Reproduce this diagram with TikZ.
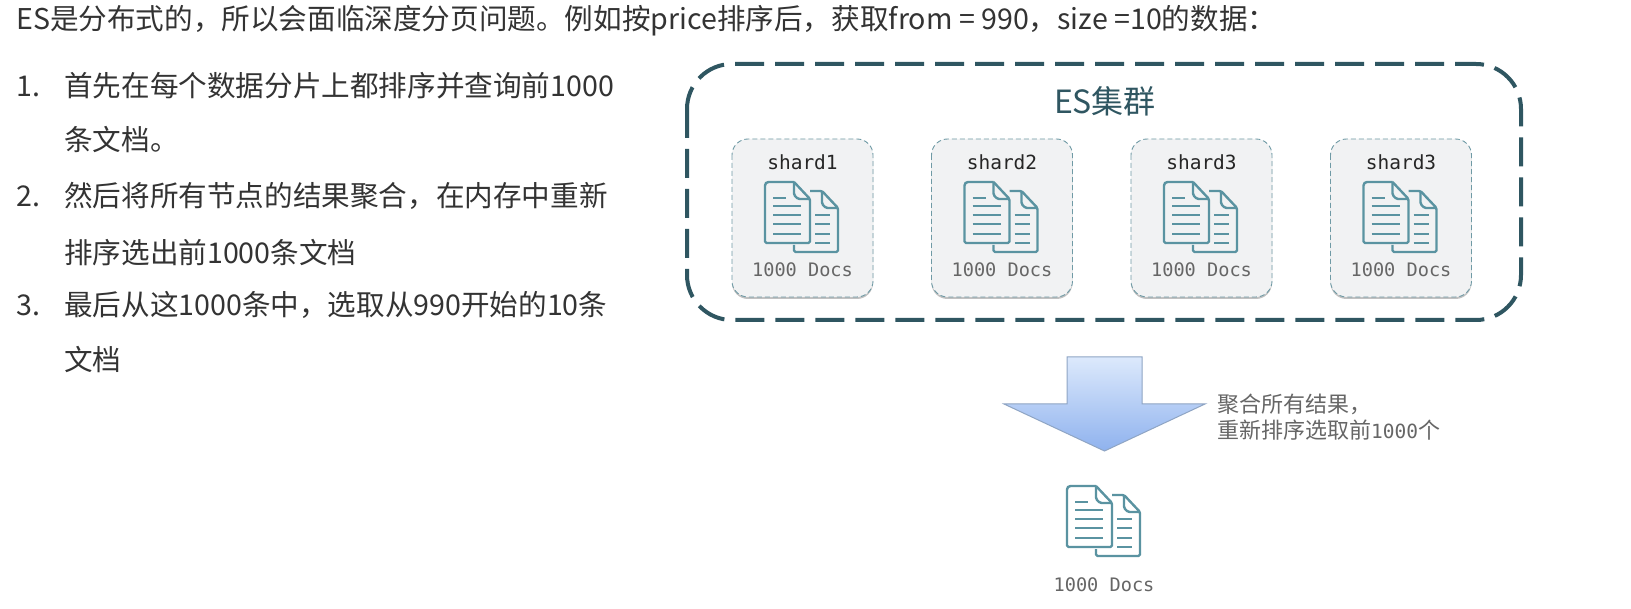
\documentclass[tikz,border=0pt]{standalone}
\usepackage{fontspec}
\setmainfont{Noto Sans CJK SC}
\newfontfamily\monofam{DejaVu Sans Mono}
\usetikzlibrary{shadows}
\definecolor{titletxt}{HTML}{333333}
\definecolor{clusterline}{HTML}{2F5661}
\definecolor{shardline}{HTML}{6F9AA5}
\definecolor{shardfill}{HTML}{F1F2F3}
\definecolor{docline}{HTML}{5A93A1}
\definecolor{monotxt}{HTML}{666666}
\definecolor{arrowtop}{HTML}{DCE9FC}
\definecolor{arrowbot}{HTML}{8FB2EE}
\definecolor{arrowline}{HTML}{8FA5C4}
\tikzset{
  x=1pt,y=-1pt,
  bodytxt/.style={anchor=west,inner sep=0pt,text=titletxt,font=\fontsize{28.6}{32}\selectfont},
  shardbox/.style={draw=shardline,dash pattern=on 5pt off 3pt,line width=0.9pt,fill=shardfill,rounded corners=16pt,
     drop shadow={shadow xshift=0pt,shadow yshift=-2pt,opacity=.4,fill=black!60}},
  shardname/.style={inner sep=0pt,text=black!85,font=\monofam\fontsize{19.5}{22}\selectfont},
  docslabel/.style={inner sep=0pt,text=monotxt,font=\monofam\fontsize{18.6}{22}\selectfont},
  docstroke/.style={draw=docline,line width=2.4pt,line join=round,rounded corners=1.5pt},
  docrule/.style={draw=docline,line width=2.2pt},
  docicon/.pic={
    \draw[docstroke] (45,9) -- (57,9) -- (73,26) -- (73,70) -- (29,70) -- (29,63);
    \draw[docstroke] (57,9) -- (57,22) -- (61,26) -- (73,26);
    \foreach \yy in {33,42,52,61} \draw[docrule] (50,\yy) -- (65,\yy);
    \draw[docstroke] (29,0) -- (2,0) -- (0,2) -- (0,61) -- (45,61) -- (45,17) -- (29,0);
    \draw[docstroke] (29,0) -- (29,13) -- (33,17) -- (45,17);
    \draw[docrule] (8,16) -- (21,16);
    \foreach \yy in {24,33,42,52} \draw[docrule] (8,\yy) -- (36,\yy);
  }
}
\begin{document}
\begin{tikzpicture}
\useasboundingbox (0,0) rectangle (1631,609);
\fill[white] (0,0) rectangle (1631,609);

\node[bodytxt] (title) at (16,21) {ES是分布式的，所以会面临深度分页问题。例如按price排序后，获取from = 990，size =10的数据：};

\node[bodytxt] (n1) at (16,86) {1.};
\node[bodytxt] (l1a) at (64,86) {首先在每个数据分片上都排序并查询前1000};
\node[bodytxt] (l1b) at (64,140) {条文档。};
\node[bodytxt] (n2) at (16,196) {2.};
\node[bodytxt] (l2a) at (64,196) {然后将所有节点的结果聚合，在内存中重新};
\node[bodytxt] (l2b) at (64,253) {排序选出前1000条文档};
\node[bodytxt] (n3) at (16,305) {3.};
\node[bodytxt] (l3a) at (64,305) {最后从这1000条中，选取从990开始的10条};
\node[bodytxt] (l3b) at (64,360) {文档};

\draw[clusterline,line width=4pt,dash pattern=on 29pt off 11pt,rounded corners=45pt] (687,64) rectangle (1521,320);
\node[inner sep=0pt,text=clusterline,font=\fontsize{32}{35}\selectfont] (cluster) at (1105,101) {ES集群};

\foreach \xx/\nm/\lab in {732/a/shard1,931.5/b/shard2,1131/c/shard3,1330.5/d/shard3}{
  \draw[shardbox] (\xx,139) rectangle (\xx+141,297);
  \node[shardname] (name\nm) at (\xx+70.5,162) {\lab};
  \pic at (\xx+33,182) {docicon};
  \node[docslabel] (docs\nm) at (\xx+70.5,270) {1000 Docs};
}

\path[draw=arrowline,line width=1pt,top color=arrowtop,bottom color=arrowbot]
  (1067,357) -- (1142,357) -- (1142,404) -- (1205,404) -- (1104.5,451) -- (1004,404) -- (1067,404) -- cycle;

\node[anchor=west,align=left,inner sep=0pt,text=monotxt,font=\fontsize{22}{26}\selectfont] (note) at (1217,417)
  {聚合所有结果，\\重新排序选取前{\monofam\fontsize{19.5}{26}\selectfont 1000}个};

\pic at (1067,486) {docicon};
\node[docslabel] (docsout) at (1104,585) {1000 Docs};
\end{tikzpicture}
\end{document}
